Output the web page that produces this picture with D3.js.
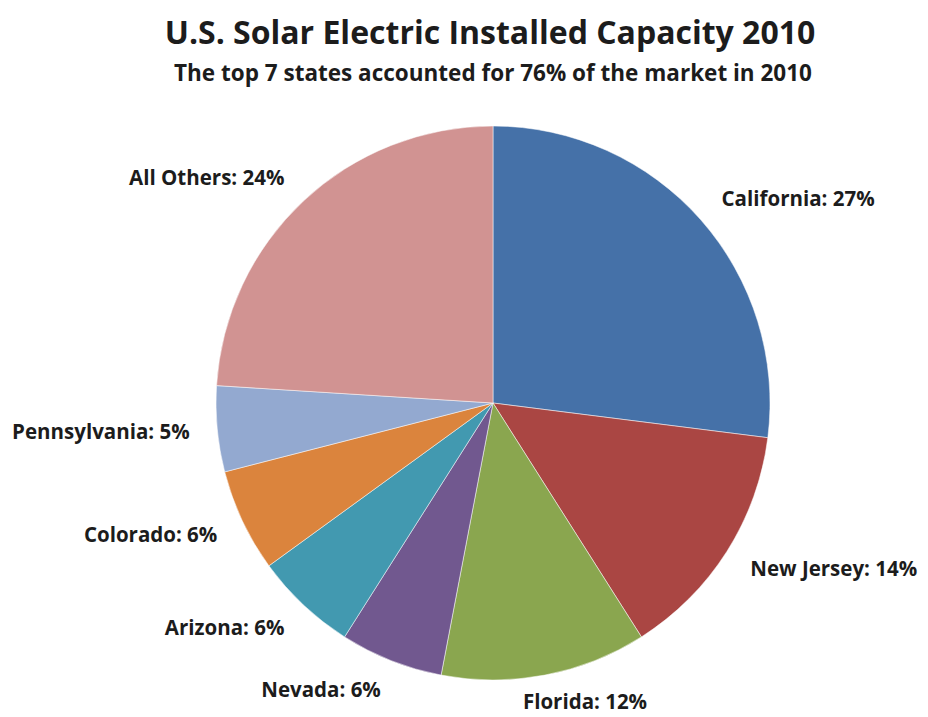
<!DOCTYPE html>
<html>
<head>
<meta charset="utf-8">
<script src="https://cdn.jsdelivr.net/npm/d3@7"></script>
<style>
  html, body { margin: 0; padding: 0; background: #fff; }
  svg { display: block; }
  text { font-family: "Open Sans", "Noto Sans", sans-serif; font-weight: bold; fill: #1c1c1c; }
</style>
</head>
<body>
<svg id="chart" width="928" height="717"></svg>
<script>
const states = ["California", "New Jersey", "Florida", "Nevada", "Arizona", "Colorado", "Pennsylvania", "All Others"];
const shares = [27, 14, 12, 6, 6, 6, 5, 24];
const colors = ["#4571A8", "#AA4643", "#8AA64F", "#71588F", "#4299B0", "#DB843D", "#93A9D0", "#D19392"];
const title = "U.S. Solar Electric Installed Capacity 2010";
const subtitle = "The top 7 states accounted for 76% of the market in 2010";

const data = states.map((s, i) => ({ state: s, share: shares[i], color: colors[i] }));

const svg = d3.select("#chart");
const H = 717;
const cx = 493, cy = 403, R = 277;

svg.append("text")
  .attr("x", 490).attr("y", 44)
  .attr("text-anchor", "middle")
  .style("font-size", "32px")
  .text(title);

svg.append("text")
  .attr("x", 493).attr("y", 81)
  .attr("text-anchor", "middle")
  .style("font-size", "22.5px")
  .text(subtitle);

const pie = d3.pie().value(d => d.share).sort(null);
const arc = d3.arc().innerRadius(0).outerRadius(R);
const arcs = pie(data);

const g = svg.append("g").attr("transform", `translate(${cx},${cy})`);
g.selectAll("path")
  .data(arcs)
  .join("path")
  .attr("d", arc)
  .attr("fill", d => d.data.color)
  .attr("stroke", "#fff")
  .attr("stroke-width", 0.5);

const labelR = R * 1.1;
const fs = 20.5;
const maxBaseline = H - cy - 8;
arcs.forEach(a => {
  const mid = (a.startAngle + a.endAngle) / 2;
  const s = Math.sin(mid), c = Math.cos(mid);
  const px = s * labelR, py = -c * labelR;
  const t = g.append("text")
    .attr("text-anchor", "middle")
    .style("font-size", fs + "px")
    .text(`${a.data.state}: ${a.data.share}%`);
  const w = t.node().getComputedTextLength();
  const hs = Math.max(-1, Math.min(1, s * 3));
  const yc = py - c * 4;
  t.attr("x", px + hs * w / 2).attr("y", Math.min(yc + fs * 0.36, maxBaseline));
});
</script>
</body>
</html>
